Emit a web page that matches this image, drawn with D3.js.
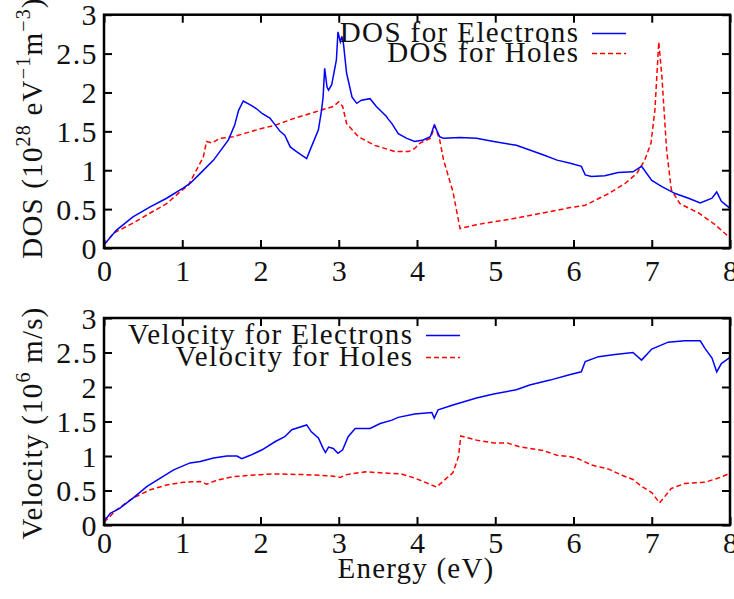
<!DOCTYPE html>
<html>
<head>
<meta charset="utf-8">
<script src="https://cdn.jsdelivr.net/npm/d3@7"></script>
</head>
<body style="margin:0; background:#fff">
<svg id="chart" width="734" height="599"></svg>
<script>
// energy axis ticks and value ticks
var energyTicks = [0, 1, 2, 3, 4, 5, 6, 7, 8];
var valueTicks = [0, 0.5, 1, 1.5, 2, 2.5, 3];

// DOS for electrons (10^28 eV^-1 m^-3)
var dosElecE = [0, 0.16, 0.37, 0.59, 0.80, 1.01, 1.10, 1.23, 1.40, 1.59, 1.67, 1.72, 1.78, 1.87, 1.95, 2.02, 2.12, 2.19, 2.25, 2.31, 2.38, 2.46, 2.59, 2.65, 2.74, 2.78, 2.80, 2.82, 2.85, 2.87, 2.91, 2.97, 2.99, 3.02, 3.04, 3.06, 3.10, 3.17, 3.23, 3.29, 3.40, 3.48, 3.61, 3.63, 3.68, 3.76, 3.87, 3.97, 4.08, 4.17, 4.22, 4.25, 4.29, 4.34, 4.55, 4.76, 4.98, 5.27, 5.44, 5.61, 5.79, 5.96, 6.10, 6.15, 6.23, 6.40, 6.57, 6.76, 6.87, 7.00, 7.13, 7.30, 7.47, 7.62, 7.77, 7.83, 7.89, 8.0];
var dosElecV = [0.04, 0.23, 0.40, 0.53, 0.64, 0.77, 0.83, 0.96, 1.13, 1.39, 1.58, 1.77, 1.89, 1.84, 1.79, 1.73, 1.67, 1.58, 1.50, 1.45, 1.30, 1.24, 1.15, 1.30, 1.52, 1.77, 1.94, 2.31, 2.07, 2.03, 2.10, 2.42, 2.78, 2.65, 2.72, 2.63, 2.25, 1.94, 1.86, 1.90, 1.92, 1.82, 1.69, 1.66, 1.60, 1.47, 1.41, 1.37, 1.39, 1.43, 1.58, 1.52, 1.43, 1.41, 1.42, 1.41, 1.37, 1.32, 1.26, 1.20, 1.13, 1.09, 1.05, 0.94, 0.92, 0.93, 0.97, 0.98, 1.05, 0.87, 0.79, 0.70, 0.64, 0.58, 0.64, 0.72, 0.60, 0.51];

// DOS for holes
var dosHoleE = [0, 0.12, 0.37, 0.59, 0.80, 0.97, 1.08, 1.18, 1.27, 1.31, 1.38, 1.48, 1.65, 1.82, 1.99, 2.19, 2.44, 2.70, 2.93, 3.00, 3.05, 3.10, 3.25, 3.46, 3.72, 3.89, 3.97, 4.04, 4.17, 4.23, 4.29, 4.34, 4.46, 4.55, 4.76, 5.19, 5.61, 5.96, 6.15, 6.45, 6.66, 6.81, 6.91, 6.99, 7.04, 7.09, 7.13, 7.19, 7.25, 7.36, 7.60, 7.81, 8.0];
var dosHoleV = [0.04, 0.19, 0.32, 0.45, 0.57, 0.72, 0.81, 1.00, 1.17, 1.37, 1.35, 1.41, 1.43, 1.48, 1.53, 1.58, 1.67, 1.75, 1.82, 1.88, 1.82, 1.60, 1.43, 1.32, 1.24, 1.24, 1.28, 1.35, 1.41, 1.57, 1.39, 1.13, 0.72, 0.25, 0.30, 0.37, 0.45, 0.52, 0.55, 0.70, 0.83, 0.96, 1.13, 1.35, 1.77, 2.65, 2.20, 1.26, 0.75, 0.57, 0.45, 0.30, 0.13];

// velocity for electrons (10^6 m/s)
var velElecE = [0, 0.08, 0.20, 0.37, 0.55, 0.72, 0.89, 1.10, 1.23, 1.40, 1.57, 1.70, 1.76, 1.87, 2.02, 2.19, 2.31, 2.40, 2.59, 2.65, 2.74, 2.80, 2.83, 2.87, 2.93, 2.99, 3.05, 3.12, 3.21, 3.40, 3.53, 3.68, 3.76, 3.97, 4.08, 4.19, 4.22, 4.27, 4.46, 4.76, 4.98, 5.27, 5.44, 5.70, 5.96, 6.10, 6.15, 6.32, 6.53, 6.76, 6.87, 7.00, 7.21, 7.42, 7.62, 7.68, 7.77, 7.83, 7.89, 8.0];
var velElecV = [0.05, 0.17, 0.24, 0.39, 0.56, 0.68, 0.80, 0.90, 0.92, 0.97, 1.00, 1.00, 0.96, 1.01, 1.09, 1.21, 1.28, 1.38, 1.45, 1.35, 1.26, 1.11, 1.05, 1.13, 1.11, 1.04, 1.09, 1.28, 1.40, 1.40, 1.47, 1.52, 1.56, 1.61, 1.62, 1.63, 1.55, 1.67, 1.74, 1.84, 1.90, 1.96, 2.03, 2.10, 2.18, 2.22, 2.37, 2.44, 2.47, 2.50, 2.39, 2.55, 2.65, 2.67, 2.67, 2.56, 2.42, 2.22, 2.34, 2.43];

// velocity for holes
var velHoleE = [0, 0.16, 0.37, 0.59, 0.80, 1.01, 1.23, 1.31, 1.44, 1.65, 1.99, 2.19, 2.57, 2.91, 3.02, 3.10, 3.34, 3.63, 3.80, 3.97, 4.08, 4.25, 4.46, 4.53, 4.56, 4.76, 4.98, 5.15, 5.32, 5.61, 5.79, 5.96, 6.06, 6.23, 6.45, 6.62, 6.76, 6.87, 7.00, 7.10, 7.25, 7.42, 7.68, 7.85, 8.0];
var velHoleV = [0.04, 0.22, 0.39, 0.51, 0.58, 0.62, 0.63, 0.59, 0.65, 0.70, 0.73, 0.74, 0.73, 0.71, 0.69, 0.73, 0.77, 0.75, 0.74, 0.68, 0.63, 0.55, 0.76, 0.99, 1.29, 1.23, 1.19, 1.19, 1.13, 1.08, 1.01, 0.99, 0.96, 0.87, 0.81, 0.72, 0.66, 0.56, 0.47, 0.32, 0.53, 0.60, 0.62, 0.68, 0.75];

var FONT = "'Liberation Serif'";
var svg = d3.select("#chart");
var x = d3.scaleLinear().domain([0, 8]).range([104, 730]);
var fmt = d3.format("~g");

function zip(es, vs) {
    return es.map(function (e, i) { return [e, vs[i]]; });
}

function serif(sel, size, spacing) {
    return sel.style("font-family", FONT)
        .style("font-size", size + "px")
        .style("letter-spacing", spacing + "px")
        .style("fill", "#111");
}

function drawPanel(opt) {
    var y = d3.scaleLinear().domain([0, 3]).range([opt.bottom, opt.top]);
    var g = svg.append("g");

    // ticks, all pointing inward
    var bottomAxis = g.append("g")
        .attr("transform", "translate(0," + opt.bottom + ")")
        .call(d3.axisBottom(x).tickValues(energyTicks).tickFormat(fmt).tickSizeInner(-8).tickSizeOuter(0).tickPadding(0));
    bottomAxis.selectAll("text").attr("y", opt.xLabelDy).attr("dy", null).attr("dx", 0.7);
    g.append("g")
        .attr("transform", "translate(0," + opt.top + ")")
        .call(d3.axisTop(x).tickValues(energyTicks).tickFormat("").tickSizeInner(-8).tickSizeOuter(0));
    var leftAxis = g.append("g")
        .attr("transform", "translate(104,0)")
        .call(d3.axisLeft(y).tickValues(valueTicks).tickFormat(fmt).tickSizeInner(-8).tickSizeOuter(0).tickPadding(0));
    leftAxis.selectAll("text").attr("x", -6).attr("dy", "0.34em");
    g.append("g")
        .attr("transform", "translate(730,0)")
        .call(d3.axisRight(y).tickValues(valueTicks).tickFormat("").tickSizeInner(-8).tickSizeOuter(0));

    g.selectAll(".domain").remove();
    g.selectAll(".tick line").attr("stroke", "#000").attr("stroke-width", 2);
    serif(g.selectAll(".tick text"), 30, 1.4);

    var line = d3.line()
        .x(function (d) { return x(d[0]); })
        .y(function (d) { return y(d[1]); });

    var clipId = "clip" + Math.round(opt.top);
    g.append("clipPath").attr("id", clipId)
        .append("rect")
        .attr("x", 104).attr("y", opt.top)
        .attr("width", 626).attr("height", opt.bottom - opt.top);

    g.append("path")
        .datum(zip(opt.holeE, opt.holeV))
        .attr("clip-path", "url(#" + clipId + ")")
        .attr("fill", "none")
        .attr("stroke", "#ff0000")
        .attr("stroke-width", 1.5)
        .attr("stroke-dasharray", "5,3")
        .attr("d", line);

    g.append("path")
        .datum(zip(opt.elecE, opt.elecV))
        .attr("clip-path", "url(#" + clipId + ")")
        .attr("fill", "none")
        .attr("stroke", "#0000ff")
        .attr("stroke-width", 1.5)
        .attr("d", line);

    // frame
    g.append("rect")
        .attr("x", 104).attr("y", opt.top)
        .attr("width", 626).attr("height", opt.bottom - opt.top)
        .attr("fill", "none")
        .attr("stroke", "#000")
        .attr("stroke-width", 2.5);

    // legend
    var rows = [
        {label: opt.names[0], color: "#0000ff", dash: null, cy: opt.legendY[0]},
        {label: opt.names[1], color: "#ff0000", dash: "5,3", cy: opt.legendY[1]}
    ];
    rows.forEach(function (r) {
        serif(g.append("text"), 29, 1.4)
            .attr("text-anchor", "end")
            .attr("x", opt.legendX + 1.4)
            .attr("y", r.cy + 8)
            .text(r.label);
        g.append("line")
            .attr("x1", opt.legendX + 14).attr("x2", opt.legendX + 48)
            .attr("y1", r.cy).attr("y2", r.cy)
            .attr("stroke", r.color)
            .attr("stroke-width", 1.5)
            .attr("stroke-dasharray", r.dash);
    });
    return g;
}

drawPanel({
    top: 14.7, bottom: 248, xLabelDy: 33,
    elecE: dosElecE, elecV: dosElecV, holeE: dosHoleE, holeV: dosHoleV,
    names: ["DOS for Electrons", "DOS for Holes"],
    legendX: 578, legendY: [33.5, 53.5]
});

drawPanel({
    top: 318, bottom: 525, xLabelDy: 28,
    elecE: velElecE, elecV: velElecV, holeE: velHoleE, holeV: velHoleV,
    names: ["Velocity for Electrons", "Velocity for Holes"],
    legendX: 412, legendY: [335.5, 357.5]
});

// y axis titles with superscripts
function yTitle(cy, parts) {
    var t = serif(svg.append("text"), 29, 1.2)
        .attr("transform", "translate(42," + cy + ") rotate(-90)")
        .attr("text-anchor", "middle");
    parts.forEach(function (p) {
        var s = t.append("tspan").text(p.text);
        if (p.sup) s.style("font-size", "20px").attr("dy", -12);
        else if (p.after) s.attr("dy", 12);
    });
}

yTitle(128, [
    {text: "DOS (10"}, {text: "28", sup: true}, {text: " eV", after: true},
    {text: "\u22121", sup: true}, {text: "m", after: true}, {text: "\u22123", sup: true},
    {text: ")", after: true}
]);
yTitle(423, [
    {text: "Velocity (10"}, {text: "6", sup: true}, {text: " m/s)", after: true}
]);

serif(svg.append("text"), 29, 1.2)
    .attr("x", 416)
    .attr("y", 578)
    .attr("text-anchor", "middle")
    .text("Energy (eV)");
</script>
</body>
</html>
